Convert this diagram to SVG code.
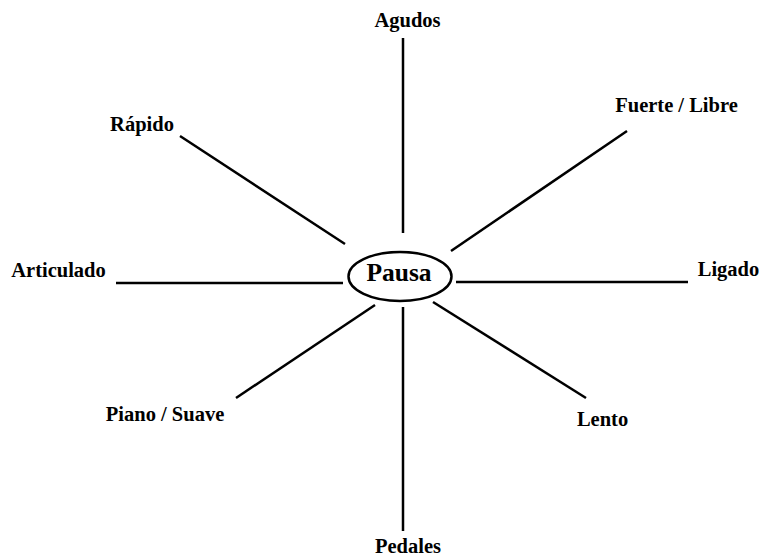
<svg xmlns="http://www.w3.org/2000/svg" width="759" height="558" viewBox="0 0 759 558">
<style>
.lbl{font-family:"Liberation Serif","Times New Roman",serif;font-weight:bold;font-size:20.5px;fill:#000}
.ln{stroke:#000;stroke-width:2.5;fill:none}
</style>
<rect width="759" height="558" fill="#fff"/>
<g id="connectors">
<line class="ln" x1="403" y1="38" x2="403" y2="233"/>
<line class="ln" x1="403" y1="307" x2="403" y2="531"/>
<line class="ln" x1="116" y1="283" x2="343" y2="283"/>
<line class="ln" x1="456" y1="282" x2="688" y2="282"/>
<line class="ln" x1="180" y1="136" x2="345" y2="244"/>
<line class="ln" x1="627" y1="131" x2="451" y2="251"/>
<line class="ln" x1="236" y1="398" x2="375" y2="305"/>
<line class="ln" x1="433" y1="302" x2="586" y2="398"/>
</g>
<g id="center">
<ellipse cx="400" cy="276.5" rx="51.5" ry="24.5" fill="none" stroke="#000" stroke-width="2.5"/>
<text x="399" y="281" text-anchor="middle" class="lbl" style="font-size:25.5px">Pausa</text>
</g>
<g id="agudos"><text class="lbl" x="407.5" y="27" text-anchor="middle">Agudos</text></g>
<g id="rapido"><text class="lbl" x="142" y="131" text-anchor="middle">Rápido</text></g>
<g id="fuerte"><text class="lbl" x="676.5" y="112" text-anchor="middle">Fuerte / Libre</text></g>
<g id="articulado"><text class="lbl" x="58.5" y="277" text-anchor="middle">Articulado</text></g>
<g id="ligado"><text class="lbl" x="728.5" y="276" text-anchor="middle">Ligado</text></g>
<g id="piano"><text class="lbl" x="165" y="421" text-anchor="middle">Piano / Suave</text></g>
<g id="lento"><text class="lbl" x="602.5" y="426" text-anchor="middle">Lento</text></g>
<g id="pedales"><text class="lbl" x="408" y="553" text-anchor="middle">Pedales</text></g>
</svg>
